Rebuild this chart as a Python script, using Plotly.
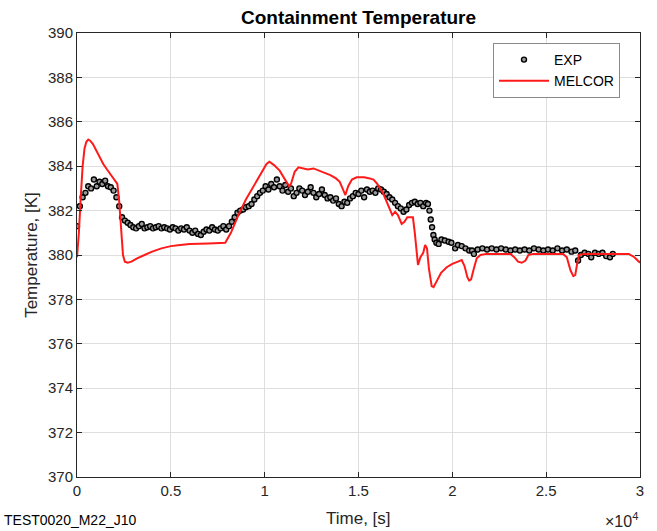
import plotly.graph_objects as go

# Experimental containment temperature (time [s], temperature [K])
exp_time = [
    0, 150, 300, 450, 600, 750, 900, 1050, 1200, 1350, 1500, 1650, 1800, 1950,
    2100, 2250, 2400, 2550, 2700, 2850, 3000, 3150, 3300, 3450, 3600, 3750, 3900,
    4050, 4200, 4350, 4500, 4650, 4800, 4950, 5100, 5250, 5400, 5550, 5700, 5850,
    6000, 6150, 6300, 6450, 6600, 6750, 6900, 7050, 7200, 7350, 7500, 7650, 7800,
    7950, 8100, 8250, 8400, 8550, 8700, 8850, 9000, 9150, 9300, 9450, 9600, 9750,
    9900, 10050, 10200, 10350, 10500, 10650, 10800, 10950, 11100, 11250, 11400,
    11550, 11700, 11850, 12000, 12150, 12300, 12450, 12600, 12750, 12900, 13050,
    13200, 13350, 13500, 13650, 13800, 13950, 14100, 14250, 14400, 14550, 14700,
    14850, 15000, 15150, 15300, 15450, 15600, 15750, 15900, 16050, 16200, 16350,
    16500, 16650, 16800, 16950, 17100, 17250, 17400, 17550, 17700, 17850, 18000,
    18150, 18300, 18450, 18600, 18700, 18780, 18850, 18920, 18990, 19060, 19150,
    19270, 19420, 19600, 19800, 19950, 20150, 20300, 20500, 20700, 20900, 21050,
    21150, 21350, 21600, 21850, 22100, 22350, 22600, 22850, 23100, 23350, 23600,
    23850, 24100, 24350, 24600, 24850, 25100, 25350, 25600, 25850, 26100, 26350,
    26550, 26700, 26850, 27050, 27250, 27400, 27600, 27800, 28000, 28200, 28400,
    28550,
]
exp_temp = [
    381.3, 382.2, 382.6, 382.8, 383.1, 383.0, 383.4, 383.1, 383.3, 383.2, 383.35,
    383.1, 383.05, 382.9, 382.6, 382.2, 381.7, 381.55, 381.45, 381.35, 381.25,
    381.2, 381.3, 381.4, 381.2, 381.25, 381.3, 381.2, 381.25, 381.3, 381.2, 381.25,
    381.2, 381.15, 381.25, 381.2, 381.1, 381.2, 381.15, 381.25, 381.1, 381.0,
    381.1, 380.95, 380.9, 381.05, 381.15, 381.1, 381.25, 381.15, 381.1, 381.2,
    381.3, 381.15, 381.3, 381.5, 381.7, 381.9, 382.0, 382.05, 382.15, 382.2, 382.3,
    382.5, 382.65, 382.8, 382.9, 383.1, 382.95, 383.2, 383.05, 383.4, 383.1, 382.9,
    383.15, 382.85, 383.0, 382.65, 382.8, 383.0, 382.9, 382.7, 382.85, 383.05,
    382.8, 382.6, 382.75, 382.95, 382.7, 382.55, 382.6, 382.45, 382.55, 382.3,
    382.2, 382.4, 382.35, 382.55, 382.65, 382.8, 382.75, 382.9, 382.6, 382.95,
    382.85, 382.9, 382.8, 383.0, 382.95, 382.85, 382.75, 382.6, 382.5, 382.35,
    382.2, 382.1, 381.95, 382.05, 382.25, 382.35, 382.4, 382.3, 382.35, 382.2,
    382.35, 382.3, 382.0, 381.6, 381.25, 380.9, 380.7, 380.55, 380.5, 380.7,
    380.65, 380.6, 380.55, 380.3, 380.45, 380.4, 380.3, 380.2, 380.2, 380.05,
    380.25, 380.3, 380.25, 380.3, 380.25, 380.3, 380.25, 380.2, 380.25, 380.2,
    380.25, 380.2, 380.3, 380.25, 380.2, 380.25, 380.2, 380.3, 380.2, 380.25,
    380.15, 380.2, 379.75, 380.0, 380.1, 380.05, 379.9, 380.1, 380.05, 380.1,
    379.95, 379.9, 380.05,
]

# MELCOR simulation result (time [s], temperature [K])
melcor_time = [
    0, 100, 200, 300, 400, 500, 600, 700, 850, 1000, 1200, 1400, 1600, 1800, 2000,
    2150, 2250, 2350, 2450, 2550, 2700, 2900, 3200, 3600, 4000, 4500, 5000, 5500,
    6000, 7000, 7900, 8200, 8600, 9000, 9400, 9800, 10100, 10250, 10500, 10800,
    11100, 11300, 11400, 11600, 11800, 12000, 12300, 12600, 12900, 13200, 13500,
    13800, 14000, 14150, 14300, 14450, 14650, 14900, 15300, 15600, 15800, 16000,
    16300, 16600, 16800, 16950, 17100, 17300, 17450, 17600, 17900, 18000, 18100,
    18170, 18300, 18450, 18550, 18650, 18750, 18900, 19000, 19200, 19400, 19700,
    20000, 20300, 20500, 20650, 20800, 20900, 21000, 21150, 21300, 21500, 21800,
    23100, 23300, 23500, 23700, 23900, 24050, 24300, 25900, 26100, 26300, 26450,
    26550, 26650, 26750, 27000, 29400, 29700, 29900, 30000,
]
melcor_temp = [
    379.9, 381.0, 382.6, 384.0, 384.8, 385.1, 385.2, 385.15, 385.0, 384.75, 384.4,
    384.1, 383.85, 383.6, 383.4, 383.2, 382.4, 381.0, 380.0, 379.7, 379.65, 379.7,
    379.85, 380.0, 380.15, 380.3, 380.4, 380.45, 380.5, 380.52, 380.55, 381.0,
    381.8, 382.5, 383.1, 383.7, 384.1, 384.2, 384.05, 383.8, 383.4, 383.1, 383.2,
    383.75, 383.95, 383.9, 383.85, 383.9, 383.8, 383.7, 383.6, 383.45, 383.3,
    383.0, 382.7, 383.1, 383.4, 383.5, 383.5, 383.45, 383.4, 383.2, 382.8, 382.2,
    381.8, 381.95, 381.8, 381.4, 381.5, 381.7, 381.7, 381.0, 380.0, 379.55, 379.9,
    380.1, 380.45, 380.3, 379.4, 378.6, 378.55, 378.9, 379.2, 379.45, 379.6,
    379.7, 379.77, 379.5, 379.0, 378.85, 378.9, 379.4, 379.85, 380.0, 380.05,
    380.05, 379.9, 379.7, 379.65, 379.75, 380.0, 380.05, 380.05, 379.9, 379.3,
    379.05, 379.1, 379.6, 380.0, 380.05, 380.05, 379.9, 379.7, 379.65,
]

x_tick_vals = [0, 5000, 10000, 15000, 20000, 25000, 30000]
x_tick_text = ["0", "0.5", "1", "1.5", "2", "2.5", "3"]
y_tick_vals = [370, 372, 374, 376, 378, 380, 382, 384, 386, 388, 390]

FONT = "Liberation Sans, Arial, sans-serif"
AXIS_COLOR = "#262626"

fig = go.Figure()
fig.add_trace(go.Scatter(
    x=exp_time, y=exp_temp, mode="markers", name="EXP",
    marker=dict(symbol="circle", size=5, color="#9a9a9a",
                line=dict(width=1.4, color="black")),
))
fig.add_trace(go.Scatter(
    x=melcor_time, y=melcor_temp, mode="lines", name="MELCOR",
    line=dict(color="#ff1a1a", width=2),
))

axis_common = dict(
    showline=True, linecolor=AXIS_COLOR, linewidth=1, mirror="allticks",
    ticks="inside", ticklen=5, tickcolor=AXIS_COLOR,
    showgrid=True, gridcolor="#dedede", gridwidth=1, zeroline=False,
    tickfont=dict(family=FONT, size=15, color=AXIS_COLOR),
)

fig.update_xaxes(
    range=[0, 30000], tickvals=x_tick_vals, ticktext=x_tick_text,
    **axis_common,
)
fig.update_yaxes(
    range=[370, 390], tickvals=y_tick_vals,
    title=dict(text="Temperature, [K]",
               font=dict(family=FONT, size=17, color=AXIS_COLOR), standoff=6),
    **axis_common,
)

fig.update_layout(
    width=657, height=531,
    margin=dict(l=77, r=17, t=33, b=54),
    paper_bgcolor="white", plot_bgcolor="white",
    font=dict(family=FONT, color=AXIS_COLOR),
    title=dict(text="<b>Containment Temperature</b>", x=0.5, xanchor="center",
               y=1 - 17 / 531, yanchor="middle", xref="paper",
               font=dict(family=FONT, size=19, color="black")),
    legend=dict(
        x=(493 - 77) / 563, y=(477 - 43) / 444, xanchor="left", yanchor="top",
        bgcolor="white", bordercolor="#8a8a8a", borderwidth=1,
        font=dict(family=FONT, size=14, color="black"),
        itemwidth=50, tracegroupgap=0,
    ),
    showlegend=True,
)

fig.add_annotation(text="Time, [s]", xref="paper", yref="paper", x=0.5, y=-0.0945,
                   xanchor="center", yanchor="middle", showarrow=False,
                   font=dict(family=FONT, size=17, color=AXIS_COLOR))
fig.add_annotation(text="TEST0020_M22_J10", xref="paper", yref="paper",
                   x=-75 / 563, y=-0.097, xanchor="left", yanchor="middle",
                   showarrow=False, font=dict(family=FONT, size=14, color="black"))
fig.add_annotation(text="\u00d710<sup>4</sup>", xref="paper", yref="paper",
                   x=1.0, y=-0.097, xanchor="right", yanchor="middle",
                   showarrow=False, font=dict(family=FONT, size=16, color=AXIS_COLOR))

fig.write_html("out.html")
